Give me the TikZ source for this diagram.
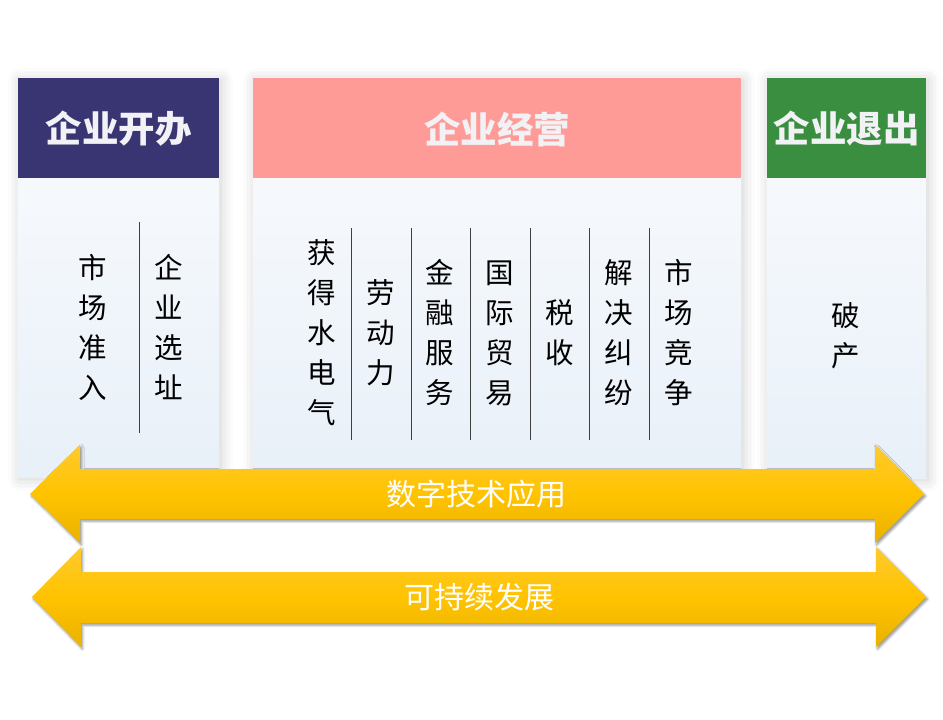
\documentclass[tikz,border=0pt]{standalone}
\usepackage{fontspec}
\setmainfont{Noto Sans CJK SC}
\newfontfamily\cjk{Noto Sans CJK SC}
\usetikzlibrary{shadows.blur}
\definecolor{hdrA}{HTML}{383572}
\definecolor{hdrB}{HTML}{FF9B96}
\definecolor{hdrC}{HTML}{3A8E3F}
\definecolor{bodyTop}{HTML}{FBFCFE}
\definecolor{bodyBot}{HTML}{E8F0F8}
\definecolor{arrTop}{HTML}{FFCA2E}
\definecolor{arrMid}{HTML}{FFC300}
\definecolor{arrBot}{HTML}{EAB200}
\definecolor{hdrText}{HTML}{F2F2F6}
\tikzset{
  boxbody/.style={top color=bodyTop, bottom color=bodyBot, draw=none,
    blur shadow={shadow xshift=2pt, shadow yshift=-2pt, shadow blur radius=12pt, shadow opacity=20}},
  hdrtext/.style={text=hdrText, font=\cjk\bfseries\fontsize{36.5}{40}\selectfont, inner sep=0pt},
  coltext/.style={text=black, font=\cjk\fontsize{28.5}{40}\selectfont, align=center, inner sep=0pt},
  divider/.style={draw=black!75, line width=0.9pt},
  bigarrow/.style={top color=arrTop, bottom color=arrBot, middle color=arrMid, draw=none,
    blur shadow={shadow xshift=1.5pt, shadow yshift=-2pt, shadow blur radius=2.5pt, shadow opacity=45}},
  arrtext/.style={text=white, font=\cjk\fontsize{30}{36}\selectfont, inner sep=0pt}
}
\begin{document}
\begin{tikzpicture}[x=1pt, y=-1pt]
\useasboundingbox (0,0) rectangle (943,720);
% boxes
\path[boxbody] (18,78) rectangle (219,477);
\path[boxbody] (253,78) rectangle (741,477);
\path[boxbody] (767,78) rectangle (926,478);
\fill[hdrA] (18,78) rectangle (219,178);
\fill[hdrB] (253,78) rectangle (741,178);
\fill[hdrC] (767,78) rectangle (926,178);
\node[hdrtext] (hA) at (118.5,129) {企业开办};
\node[hdrtext] (hB) at (497,129) {企业经营};
\node[hdrtext] (hC) at (846.5,129) {企业退出};
% left box content
\node[coltext] (a1) at (93,327) {市\\场\\准\\入};
\node[coltext] (a2) at (169,327) {企\\业\\选\\址};
\draw[divider] (139.7,222) -- (139.7,433);
% middle box content
\node[coltext] (b1) at (322,333) {获\\得\\水\\电\\气};
\node[coltext] (b2) at (381,333) {劳\\动\\力};
\node[coltext] (b3) at (440,333) {金\\融\\服\\务};
\node[coltext] (b4) at (500,333) {国\\际\\贸\\易};
\node[coltext] (b5) at (559.5,333) {税\\收};
\node[coltext] (b6) at (619,333) {解\\决\\纠\\纷};
\node[coltext] (b7) at (678.5,333) {市\\场\\竞\\争};
\foreach \x in {351.7,411.3,470.7,530.2,589.7,649.3}{
  \draw[divider] (\x,228) -- (\x,440);
}
% right box content
\node[coltext] (c1) at (846,336) {破\\产};
% arrows
\path[bigarrow] (30,494) -- (80,445) -- (80,469) -- (875,469) -- (875,445) -- (924,494)
  -- (875,543) -- (875,519) -- (80,519) -- (80,543) -- cycle;
\node[arrtext] (t1) at (476,494) {数字技术应用};
\path[bigarrow] (32,597) -- (81,547) -- (81,572) -- (876,572) -- (876,547) -- (926,597)
  -- (876,647) -- (876,623) -- (81,623) -- (81,647) -- cycle;
\node[arrtext] (t2) at (479,597) {可持续发展};
\end{tikzpicture}
\end{document}
